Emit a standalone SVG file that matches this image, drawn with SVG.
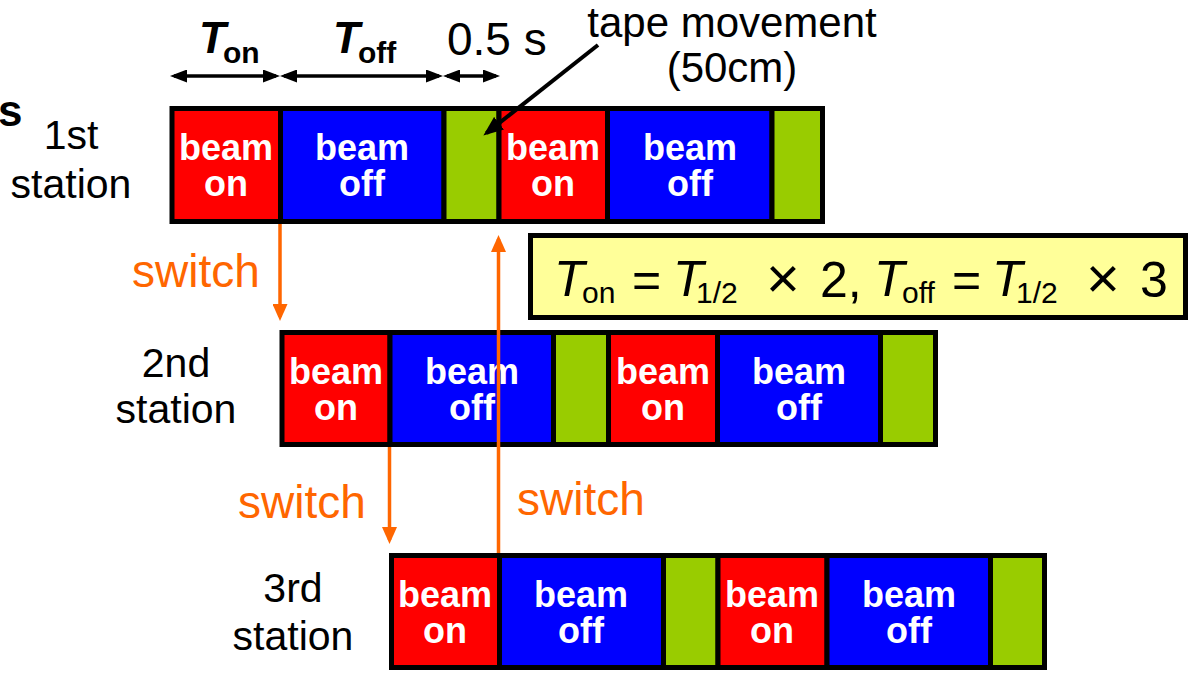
<svg xmlns="http://www.w3.org/2000/svg" width="1191" height="676" viewBox="0 0 1191 676">
<style>
.seg{stroke:#000;stroke-width:5}
.on{fill:#FF0000}
.off{fill:#0000FF}
.gap{fill:#99CC00}
.bt{font-family:"Liberation Sans",Arial,sans-serif;font-weight:bold;font-size:36px;fill:#fff;text-anchor:middle}
.lbl{font-family:"Liberation Sans",Arial,sans-serif;font-size:41px;fill:#000;text-anchor:middle}
.sw{font-family:"Liberation Sans",Arial,sans-serif;font-size:46px;fill:#FF6600}
.hd{font-family:"Liberation Sans",Arial,sans-serif;fill:#000}
.orl{stroke:#FF6600;stroke-width:3.5;fill:none}
.blk{stroke:#000;stroke-width:3.5;fill:none}
</style>
<defs>
<marker id="ah" markerUnits="userSpaceOnUse" markerWidth="17" markerHeight="13" refX="13" refY="6.5" orient="auto-start-reverse"><path d="M0,0 L17,6.5 L0,13 z" fill="#000"/></marker>
<marker id="oh" markerUnits="userSpaceOnUse" markerWidth="17" markerHeight="15" refX="13" refY="7.5" orient="auto"><path d="M0,0 L17,7.5 L0,15 z" fill="#FF6600"/></marker>
<marker id="th" markerUnits="userSpaceOnUse" markerWidth="20" markerHeight="16" refX="16" refY="8" orient="auto"><path d="M0,0 L20,8 L0,16 z" fill="#000"/></marker>
</defs>
<rect width="1191" height="676" fill="#fff"/>

<g id="left-s"><text class="hd" x="-2" y="126" font-size="44" font-weight="bold">s</text></g>

<g id="header">
<text class="hd" x="199" y="53" font-size="44" font-weight="bold" font-style="italic">T</text>
<text class="hd" x="223" y="63" font-size="30" font-weight="bold">on</text>
<text class="hd" x="333" y="53" font-size="44" font-weight="bold" font-style="italic">T</text>
<text class="hd" x="358" y="63" font-size="30" font-weight="bold">off</text>
<text class="hd" x="447" y="55" font-size="46">0.5 s</text>
<line class="blk" x1="174" y1="76" x2="276" y2="76" marker-start="url(#ah)" marker-end="url(#ah)"/>
<line class="blk" x1="284" y1="76" x2="439" y2="76" marker-start="url(#ah)" marker-end="url(#ah)"/>
<line class="blk" x1="447" y1="76" x2="496" y2="76" marker-start="url(#ah)" marker-end="url(#ah)"/>
</g>

<g id="tape-label">
<text class="hd" x="732" y="37" font-size="42" text-anchor="middle">tape movement</text>
<text class="hd" x="732" y="82" font-size="42" text-anchor="middle">(50cm)</text>
</g>

<g id="label-1st"><text class="lbl" x="71" y="149">1st</text><text class="lbl" x="71" y="198">station</text></g>
<g id="label-2nd"><text class="lbl" x="176" y="377">2nd</text><text class="lbl" x="176" y="423">station</text></g>
<g id="label-3rd"><text class="lbl" x="293" y="602">3rd</text><text class="lbl" x="293" y="650">station</text></g>

<g id="station1">
<rect class="seg on" x="172" y="108.5" width="108.5" height="113"/>
<rect class="seg off" x="280.5" y="108.5" width="163.5" height="113"/>
<rect class="seg gap" x="444" y="108.5" width="55" height="113"/>
<rect class="seg on" x="499" y="108.5" width="108.5" height="113"/>
<rect class="seg off" x="607.5" y="108.5" width="164.5" height="113"/>
<rect class="seg gap" x="772" y="108.5" width="50.5" height="113"/>
<text class="bt" x="226" y="160">beam</text><text class="bt" x="226" y="196">on</text>
<text class="bt" x="362" y="160">beam</text><text class="bt" x="362" y="196">off</text>
<text class="bt" x="553" y="160">beam</text><text class="bt" x="553" y="196">on</text>
<text class="bt" x="690" y="160">beam</text><text class="bt" x="690" y="196">off</text>
</g>

<g id="station2">
<rect class="seg on" x="282" y="332.5" width="108" height="112"/>
<rect class="seg off" x="390" y="332.5" width="163.5" height="112"/>
<rect class="seg gap" x="553.5" y="332.5" width="55" height="112"/>
<rect class="seg on" x="608.5" y="332.5" width="109" height="112"/>
<rect class="seg off" x="717.5" y="332.5" width="163" height="112"/>
<rect class="seg gap" x="880.5" y="332.5" width="55" height="112"/>
<text class="bt" x="336" y="384">beam</text><text class="bt" x="336" y="420">on</text>
<text class="bt" x="472" y="384">beam</text><text class="bt" x="472" y="420">off</text>
<text class="bt" x="663" y="384">beam</text><text class="bt" x="663" y="420">on</text>
<text class="bt" x="799" y="384">beam</text><text class="bt" x="799" y="420">off</text>
</g>

<g id="station3">
<rect class="seg on" x="391.5" y="555.5" width="108" height="112"/>
<rect class="seg off" x="499.5" y="555.5" width="164" height="112"/>
<rect class="seg gap" x="663.5" y="555.5" width="54.5" height="112"/>
<rect class="seg on" x="718" y="555.5" width="109" height="112"/>
<rect class="seg off" x="827" y="555.5" width="163.5" height="112"/>
<rect class="seg gap" x="990.5" y="555.5" width="54" height="112"/>
<text class="bt" x="445" y="607">beam</text><text class="bt" x="445" y="643">on</text>
<text class="bt" x="581" y="607">beam</text><text class="bt" x="581" y="643">off</text>
<text class="bt" x="772" y="607">beam</text><text class="bt" x="772" y="643">on</text>
<text class="bt" x="909" y="607">beam</text><text class="bt" x="909" y="643">off</text>
</g>

<g id="formula">
<rect x="530.5" y="235.5" width="655" height="82" fill="#FFFF99" stroke="#000" stroke-width="5"/>
<text class="hd" font-size="50">
<tspan x="554" y="296" font-style="italic">T</tspan><tspan x="582" y="303" font-size="30">on</tspan><tspan x="632" y="297">=</tspan><tspan x="673" y="296" font-style="italic">T</tspan><tspan x="696" y="303" font-size="30">1/2</tspan><tspan x="766" y="298" font-size="58">×</tspan><tspan x="820" y="297">2,</tspan><tspan x="874" y="296" font-style="italic">T</tspan><tspan x="902" y="303" font-size="30">off</tspan><tspan x="952" y="297">=</tspan><tspan x="992" y="296" font-style="italic">T</tspan><tspan x="1016" y="303" font-size="30">1/2</tspan><tspan x="1086" y="298" font-size="58">×</tspan><tspan x="1140" y="297">3</tspan>
</text>
</g>

<g id="switch-labels">
<text class="sw" x="132" y="287">switch</text>
<text class="sw" x="238" y="518">switch</text>
<text class="sw" x="517" y="515">switch</text>
</g>

<g id="connectors">
<line class="orl" x1="280" y1="224" x2="280" y2="317" marker-end="url(#oh)"/>
<line class="orl" x1="389.5" y1="447" x2="389.5" y2="540" marker-end="url(#oh)"/>
<line class="orl" x1="498.5" y1="553" x2="498.5" y2="239" marker-end="url(#oh)"/>
<line x1="598" y1="45" x2="486.5" y2="133.1" stroke="#000" stroke-width="4" marker-end="url(#th)"/>
</g>
</svg>
